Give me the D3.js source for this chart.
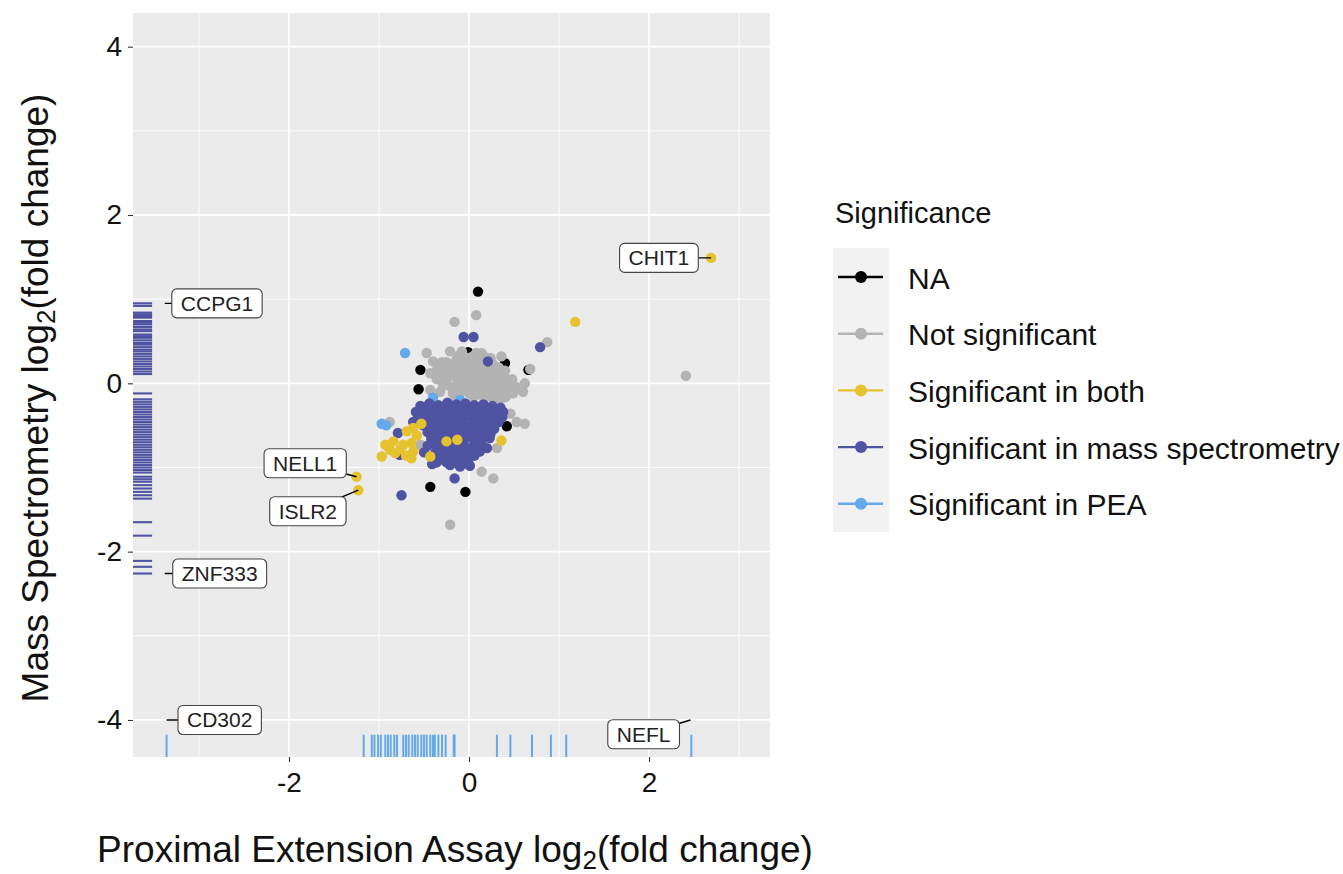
<!DOCTYPE html>
<html>
<head>
<meta charset="utf-8">
<script src="https://cdn.jsdelivr.net/npm/d3@7"></script>
<style>
  body { margin: 0; background: #fff; }
  svg { font-family: "Liberation Sans", Arial, Helvetica, sans-serif; }
</style>
</head>
<body>
<svg id="chart" width="1343" height="874"></svg>
<script>
// categories and legend
const categories = ['NA', 'Not significant', 'Significant in both', 'Significant in mass spectrometry', 'Significant in PEA'];
const palette = ['#000000', '#b3b3b3', '#e6c22f', '#5053a1', '#64a9ea'];

const xTicks = [-2, 0, 2];
const yTicks = [-4, -2, 0, 2, 4];

// [PEA log2FC, MS log2FC]
const naPoints = [
  [0.10, 1.09], [-0.01, 0.37], [-0.54, 0.16], [0.40, 0.24], [-0.56, -0.07], [-0.23, 0.12],
  [0.66, 0.16], [0.42, -0.51], [0.25, -0.49], [-0.43, -1.23], [-0.04, -1.29], [-0.04, 0.20]
];
const notSigPoints = [
  [0.08, 0.81], [-0.16, 0.73], [-0.47, 0.36], [-0.40, 0.26], [-0.19, 0.22], [-0.08, 0.38],
  [0.14, 0.36], [0.36, 0.32], [0.68, 0.17], [0.62, 0.0], [0.60, -0.10], [0.42, -0.02],
  [0.49, -0.12], [-0.43, 0.12], [-0.32, 0.10], [-0.43, -0.08], [-0.32, -0.10], [0.87, 0.49],
  [0.14, -1.05], [0.27, -1.13], [-0.21, -1.68], [-0.88, -0.46], [-0.54, -0.73], [-0.29, -0.91],
  [0.31, -0.77], [0.46, -0.36], [0.53, -0.46], [0.62, -0.48], [2.41, 0.09], [-0.36, 0.05],
  [-0.25, 0.25], [-0.14, 0.28], [-0.04, 0.31], [0.06, 0.27], [0.16, 0.26], [0.26, 0.24], [0.33, 0.19],
  [-0.27, 0.15], [-0.17, 0.17], [-0.07, 0.19], [0.03, 0.21], [0.12, 0.17], [0.22, 0.16], [0.31, 0.11],
  [0.40, 0.07], [-0.24, 0.06], [-0.15, 0.08], [-0.05, 0.11], [0.05, 0.12], [0.15, 0.09], [0.25, 0.07],
  [0.35, 0.03], [0.44, 0.03], [-0.22, -0.03], [-0.12, 0.01], [-0.02, 0.02], [0.08, 0.04], [0.18, 0.01],
  [0.28, -0.02], [0.38, -0.07], [-0.18, -0.12], [-0.08, -0.09], [0.02, -0.07], [0.12, -0.08],
  [0.22, -0.11], [0.32, -0.12], [0.41, -0.16], [-0.11, -0.17], [0.05, -0.16], [0.17, -0.18],
  [0.28, -0.19], [0.00, 0.24], [0.10, 0.13], [-0.10, 0.14], [0.20, 0.05], [-0.02, -0.04],
  [0.30, 0.15], [0.08, 0.36], [-0.21, 0.38], [-0.29, -0.02], [0.52, -0.04], [0.18, 0.31],
  [-0.20, 0.20], [-0.10, 0.23], [0.00, 0.16], [0.10, 0.22], [0.20, 0.21], [0.28, 0.20], [-0.25, 0.10],
  [-0.12, 0.05], [0.00, 0.07], [0.11, 0.07], [0.23, 0.11], [0.33, 0.07], [-0.17, -0.06], [-0.06, -0.02],
  [0.06, -0.02], [0.15, -0.04], [0.25, -0.06], [0.35, -0.10], [0.45, -0.08], [-0.14, -0.20],
  [0.00, -0.12], [0.10, -0.13], [0.24, -0.15], [0.36, -0.18], [0.04, 0.32], [-0.11, 0.33],
  [0.12, 0.30], [0.24, 0.30], [0.40, 0.15], [0.48, 0.05], [-0.35, 0.18], [-0.30, 0.25]
];
const bothPoints = [
  [2.69, 1.49], [1.18, 0.73], [-1.25, -1.11], [-1.23, -1.27],
  [-0.53, -0.48], [-0.62, -0.53], [-0.69, -0.57], [-0.84, -0.69], [-0.93, -0.73], [-0.73, -0.73],
  [-0.64, -0.71], [-0.97, -0.87], [-0.82, -0.83], [-0.64, -0.89], [-0.62, -0.81], [-0.43, -0.87],
  [-0.25, -0.69], [-0.13, -0.67], [0.36, -0.68], [-0.88, -0.79], [-0.76, -0.78], [-0.70, -0.86],
  [-0.58, -0.62]
];
const msPoints = [
  [-0.06, 0.55], [0.05, 0.55], [0.79, 0.43], [0.21, 0.26], [-0.75, -1.33], [-0.16, -1.13],
  [0.33, -0.46], [-0.79, -0.59], [-0.77, -0.85], [-0.62, -0.46], [0.38, -0.34], [0.20, -0.77],
  [-0.54, -0.27], [-0.44, -0.24], [-0.34, -0.26], [-0.24, -0.23], [-0.14, -0.25], [-0.04, -0.24],
  [0.06, -0.26], [0.16, -0.25], [0.26, -0.27], [0.35, -0.29],
  [-0.59, -0.34], [-0.49, -0.33], [-0.39, -0.35], [-0.29, -0.32], [-0.19, -0.34], [-0.09, -0.33],
  [0.01, -0.35], [0.11, -0.32], [0.21, -0.34], [0.30, -0.36], [0.37, -0.40],
  [-0.57, -0.42], [-0.47, -0.43], [-0.37, -0.41], [-0.27, -0.44], [-0.17, -0.42], [-0.07, -0.43],
  [0.03, -0.41], [0.13, -0.44], [0.22, -0.42], [0.31, -0.45],
  [-0.51, -0.50], [-0.41, -0.51], [-0.31, -0.49], [-0.21, -0.52], [-0.11, -0.50], [0.00, -0.51],
  [0.10, -0.49], [0.19, -0.52], [0.28, -0.54],
  [-0.46, -0.58], [-0.36, -0.59], [-0.26, -0.57], [-0.16, -0.60], [-0.06, -0.58], [0.04, -0.59],
  [0.14, -0.57], [0.24, -0.60],
  [-0.42, -0.66], [-0.33, -0.67], [-0.20, -0.65], [-0.05, -0.67], [0.05, -0.66], [0.14, -0.68],
  [0.23, -0.65], [-0.46, -0.74], [-0.36, -0.75], [-0.26, -0.73], [-0.16, -0.76], [-0.06, -0.74],
  [0.04, -0.75], [0.14, -0.73], [-0.50, -0.82], [-0.38, -0.83], [-0.28, -0.81], [-0.18, -0.84],
  [-0.08, -0.82], [0.02, -0.83], [0.12, -0.81], [-0.40, -0.90], [-0.30, -0.89], [-0.20, -0.91],
  [-0.10, -0.90], [0.00, -0.89], [-0.41, -0.96], [-0.21, -0.97], [-0.10, -0.99], [0.01, -0.98],
  [-0.49, -0.28], [-0.39, -0.29], [-0.29, -0.28], [-0.19, -0.29], [-0.09, -0.28], [0.01, -0.29],
  [0.11, -0.29], [0.21, -0.30], [-0.52, -0.38], [-0.42, -0.38], [-0.32, -0.38], [-0.22, -0.38],
  [-0.12, -0.38], [-0.02, -0.38], [0.08, -0.38], [0.18, -0.38], [0.27, -0.39], [-0.46, -0.46],
  [-0.34, -0.46], [-0.22, -0.47], [-0.12, -0.46], [0.06, -0.46], [0.16, -0.47], [0.26, -0.48],
  [-0.36, -0.54], [-0.26, -0.54], [-0.16, -0.55], [-0.05, -0.54], [0.05, -0.55], [0.15, -0.54],
  [0.24, -0.56], [-0.40, -0.62], [-0.30, -0.62], [-0.11, -0.62], [0.00, -0.62], [0.10, -0.63],
  [0.19, -0.61], [-0.38, -0.71], [-0.28, -0.70], [-0.10, -0.70], [0.09, -0.71], [-0.32, -0.78],
  [-0.22, -0.79], [-0.11, -0.78], [0.00, -0.79], [0.08, -0.77], [-0.34, -0.86], [-0.24, -0.86],
  [-0.14, -0.86], [-0.04, -0.86], [0.06, -0.86], [-0.36, -0.94], [-0.25, -0.94], [-0.15, -0.94],
  [-0.05, -0.95]
];
const peaPoints = [
  [-0.71, 0.36], [-0.97, -0.48], [-0.92, -0.50], [-0.40, -0.17], [-0.10, -0.20]
];

// marginal rugs: MS-only values (left) and PEA-only values (bottom)
const msRug = [
  0.95, 0.92, 0.84, 0.82, 0.80, 0.78, 0.74, 0.72, 0.70, 0.67, 0.64, 0.62, 0.58, 0.56, 0.54, 0.51,
  0.48, 0.46, 0.43, 0.40, 0.38, 0.35, 0.32, 0.29, 0.26, 0.23, 0.20, 0.17, 0.14, 0.11,
  -0.12, -0.19, -0.22, -0.25, -0.28, -0.31, -0.34, -0.37, -0.40, -0.43, -0.46, -0.49, -0.52, -0.55,
  -0.58, -0.61, -0.64, -0.67, -0.70, -0.73, -0.76, -0.79, -0.82, -0.85, -0.88, -0.91, -0.94, -0.97,
  -1.00, -1.03, -1.06, -1.11, -1.14, -1.17, -1.21, -1.25, -1.29, -1.33, -1.37,
  -1.65, -1.81, -2.11, -2.18, -2.26
];
const peaRug = [
  -3.36, -1.17, -1.08, -1.05, -1.01, -0.98, -0.93, -0.90, -0.87, -0.83, -0.80, -0.73, -0.70, -0.67,
  -0.63, -0.60, -0.57, -0.53, -0.50, -0.47, -0.43, -0.40, -0.38, -0.34, -0.30, -0.26, -0.17, -0.16,
  0.31, 0.46, 0.70, 0.91, 1.08, 2.47
];

// labelled proteins: point position and label position
const labels = [
  { name: 'CHIT1', x: 2.69, y: 1.49, lx: 2.11, ly: 1.49 },
  { name: 'NELL1', x: -1.25, y: -1.11, lx: -1.82, ly: -0.95 },
  { name: 'ISLR2', x: -1.23, y: -1.27, lx: -1.79, ly: -1.52 },
  { name: 'CCPG1', x: -3.38, y: 0.95, lx: -2.80, ly: 0.95 },
  { name: 'ZNF333', x: -3.38, y: -2.26, lx: -2.77, ly: -2.26 },
  { name: 'CD302', x: -3.36, y: -4.0, lx: -2.77, ly: -4.0 },
  { name: 'NEFL', x: 2.46, y: -4.0, lx: 1.94, ly: -4.17 }
];

const series = [naPoints, notSigPoints, bothPoints, msPoints, peaPoints];
const drawOrder = [0, 1, 4, 3, 2];

const panel = { left: 133, top: 13, right: 770, bottom: 757 };
const width = panel.right - panel.left,
  height = panel.bottom - panel.top;

const x = d3.scaleLinear().domain([-3.733, 3.344]).range([panel.left, panel.right]);
const y = d3.scaleLinear().domain([-4.44, 4.40]).range([panel.bottom, panel.top]);

const svg = d3.select('#chart');

svg.append('rect')
  .attr('x', panel.left).attr('y', panel.top)
  .attr('width', width).attr('height', height)
  .attr('fill', '#ebebeb');

// minor grid
const xMinor = [-3, -1, 1, 3];
const yMinor = [-3, -1, 1, 3];
svg.append('g').selectAll('line').data(xMinor).enter().append('line')
  .attr('x1', (d) => x(d)).attr('x2', (d) => x(d))
  .attr('y1', panel.top).attr('y2', panel.bottom)
  .attr('stroke', '#fff').attr('stroke-width', 0.9);
svg.append('g').selectAll('line').data(yMinor).enter().append('line')
  .attr('y1', (d) => y(d)).attr('y2', (d) => y(d))
  .attr('x1', panel.left).attr('x2', panel.right)
  .attr('stroke', '#fff').attr('stroke-width', 0.9);

// major grid
svg.append('g').selectAll('line').data(xTicks).enter().append('line')
  .attr('x1', (d) => x(d)).attr('x2', (d) => x(d))
  .attr('y1', panel.top).attr('y2', panel.bottom)
  .attr('stroke', '#fff').attr('stroke-width', 1.8);
svg.append('g').selectAll('line').data(yTicks).enter().append('line')
  .attr('y1', (d) => y(d)).attr('y2', (d) => y(d))
  .attr('x1', panel.left).attr('x2', panel.right)
  .attr('stroke', '#fff').attr('stroke-width', 1.8);

// rugs
svg.append('g').selectAll('line').data(msRug).enter().append('line')
  .attr('x1', panel.left).attr('x2', panel.left + 0.03 * width)
  .attr('y1', (d) => y(d)).attr('y2', (d) => y(d))
  .attr('stroke', palette[3]).attr('stroke-width', 2.1);
svg.append('g').selectAll('line').data(peaRug).enter().append('line')
  .attr('x1', (d) => x(d)).attr('x2', (d) => x(d))
  .attr('y1', panel.bottom).attr('y2', panel.bottom - 0.03 * height)
  .attr('stroke', palette[4]).attr('stroke-width', 2);

// points
drawOrder.forEach((i) => {
  svg.append('g').selectAll('circle').data(series[i]).enter().append('circle')
    .attr('cx', (d) => x(d[0]))
    .attr('cy', (d) => y(d[1]))
    .attr('r', 5.2)
    .attr('fill', palette[i]);
});

// repel-style labels
const lab = svg.append('g');
labels.forEach((d) => {
  const g = lab.append('g');
  g.append('line')
    .attr('x1', x(d.x)).attr('y1', y(d.y))
    .attr('x2', x(d.lx)).attr('y2', y(d.ly))
    .attr('stroke', '#000').attr('stroke-width', 1.4);
  const rect = g.append('rect');
  const t = g.append('text')
    .attr('x', x(d.lx)).attr('y', y(d.ly))
    .attr('text-anchor', 'middle')
    .attr('dominant-baseline', 'central')
    .attr('font-size', 21)
    .attr('fill', '#222')
    .text(d.name);
  const bb = t.node().getBBox();
  rect.attr('x', bb.x - 9).attr('y', y(d.ly) - 14.5)
    .attr('width', bb.width + 18).attr('height', 29)
    .attr('rx', 5).attr('ry', 5)
    .attr('fill', '#fff').attr('stroke', '#444').attr('stroke-width', 1.1);
});

// axes
const xAxis = d3.axisBottom(x).tickValues(xTicks).tickSize(5).tickPadding(10).tickFormat((d) => String(d));
const yAxis = d3.axisLeft(y).tickValues(yTicks).tickSize(5).tickPadding(6).tickFormat((d) => String(d));

const gx = svg.append('g')
  .attr('transform', 'translate(0,' + panel.bottom + ')')
  .call(xAxis);
const gy = svg.append('g')
  .attr('transform', 'translate(' + panel.left + ',0)')
  .call(yAxis);
[gx, gy].forEach((g) => {
  g.select('.domain').remove();
  g.selectAll('.tick line').attr('stroke', '#333').attr('stroke-width', 1.1);
  g.selectAll('.tick text').attr('font-size', 28).attr('fill', '#111')
    .style('font-family', '"Liberation Sans", Arial, sans-serif');
});

// axis titles
const xt = svg.append('text')
  .attr('x', 455)
  .attr('y', 862)
  .attr('text-anchor', 'middle')
  .attr('font-size', 37)
  .attr('fill', '#111');
xt.append('tspan').text('Proximal Extension Assay log');
xt.append('tspan').attr('font-size', 26).attr('dy', 7).text('2');
xt.append('tspan').attr('dy', -7).text('(fold change)');

const yt = svg.append('text')
  .attr('transform', 'translate(48,398) rotate(-90)')
  .attr('text-anchor', 'middle')
  .attr('font-size', 37)
  .attr('fill', '#111');
yt.append('tspan').text('Mass Spectrometry log');
yt.append('tspan').attr('font-size', 26).attr('dy', 7).text('2');
yt.append('tspan').attr('dy', -7).text('(fold change)');

// legend
const legend = svg.append('g');
legend.append('text')
  .attr('x', 835).attr('y', 223)
  .attr('font-size', 29).attr('fill', '#111')
  .text('Significance');
legend.append('rect')
  .attr('x', 833).attr('y', 248)
  .attr('width', 56).attr('height', 284)
  .attr('fill', '#f2f2f2');
const rows = legend.selectAll('.row').data(categories).enter().append('g')
  .attr('class', 'row')
  .attr('transform', (d, i) => 'translate(0,' + (277 + i * 56.7) + ')');
rows.append('line')
  .attr('x1', 838).attr('x2', 883)
  .attr('stroke', (d, i) => palette[i]).attr('stroke-width', 2.4);
rows.append('circle')
  .attr('cx', 861).attr('r', 6)
  .attr('fill', (d, i) => palette[i]);
rows.append('text')
  .attr('x', 908).attr('y', 1)
  .attr('dominant-baseline', 'central')
  .attr('font-size', 30).attr('fill', '#111')
  .text((d) => d);
</script>
</body>
</html>
